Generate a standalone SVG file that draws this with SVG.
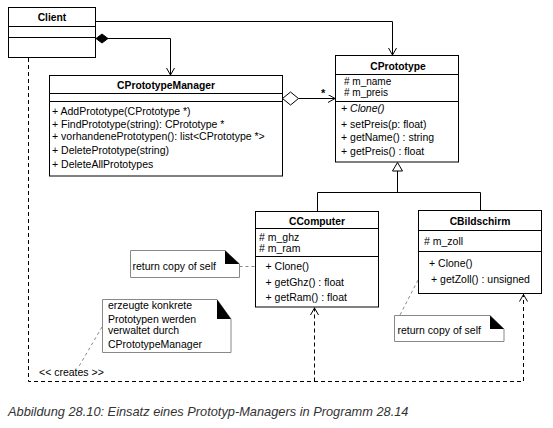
<svg xmlns="http://www.w3.org/2000/svg" width="553" height="428" viewBox="0 0 553 428">
<style>
text{font-family:"Liberation Sans",Arial,sans-serif;font-size:10.5px;fill:#000}
.t{font-weight:bold;font-size:10.3px;text-anchor:middle}
.box{fill:#fff;stroke:#000;stroke-width:1}
.ln{fill:none;stroke:#000;stroke-width:1}
.dash{fill:none;stroke:#000;stroke-width:1;stroke-dasharray:4 3}
.gd{fill:none;stroke:#888;stroke-width:1;stroke-dasharray:3 3}
.note{fill:#fff;stroke:#888;stroke-width:1}
.fold{fill:#000}
.cap{font-style:italic;font-size:12.8px;fill:#333}
</style>
<defs>
<marker id="open" markerWidth="10" markerHeight="10" refX="8" refY="4" orient="auto" markerUnits="userSpaceOnUse">
<path d="M1,0 L8,4 L1,8" fill="none" stroke="#000" stroke-width="1"/>
</marker>
</defs>
<rect width="553" height="428" fill="#fff"/>
<g id="connectors">
<path class="ln" d="M95.5,21.5 H392.5 V55" marker-end="url(#open)"/>
<path class="ln" d="M108,38.5 H170.5 V75" marker-end="url(#open)"/>
<polygon points="96,38.5 102,34 108,38.5 102,43" fill="#000" stroke="#000"/>
<path class="ln" d="M298.5,98.5 H335" marker-end="url(#open)"/>
<polygon points="282.5,98.5 290.5,92 298.5,98.5 290.5,105" fill="#fff" stroke="#000"/>
<text x="321" y="97" style="font-weight:bold;font-size:11px">*</text>
<path class="ln" d="M397.5,171 V192.5 M317.5,211 V192.5 H480.5 V210.5"/>
<polygon points="397.5,162.5 392.5,171 402.5,171" fill="#fff" stroke="#000"/>
<path class="dash" d="M28.5,58 V381.5 H523.5 V294"/>
<path class="dash" d="M314.5,381.5 V307.5"/>
<path d="M310.5,315 L314.5,308 L318.5,315" fill="none" stroke="#000"/>
<path d="M519.5,301.5 L523.5,294.5 L527.5,301.5" fill="none" stroke="#000"/>
<path class="gd" d="M239.5,266.5 H259"/>
<circle cx="261.5" cy="266.5" r="2.5" fill="#fff" stroke="#666"/>
<path class="gd" d="M423.5,269.5 L400,315"/>
<circle cx="424.5" cy="267" r="2.5" fill="#fff" stroke="#666"/>
<path class="gd" d="M102,327 L78,368"/>
<text x="39" y="376">&lt;&lt; creates &gt;&gt;</text>
</g>
<g id="client">
<rect class="box" x="8.5" y="7.5" width="87" height="50"/>
<path class="ln" d="M8.5,26.5 H95.5 M8.5,37.5 H95.5"/>
<text class="t" x="52" y="21">Client</text>
</g>
<g id="cprototypemanager">
<rect class="box" x="49.5" y="75.5" width="233" height="100.5"/>
<path class="ln" d="M49.5,93.5 H282.5 M49.5,101.5 H282.5"/>
<text class="t" x="166" y="89">CPrototypeManager</text>
<text x="52" y="115">+ AddPrototype(CPrototype *)</text>
<text x="52" y="127.5">+ FindPrototype(string): CPrototype *</text>
<text x="52" y="140">+ vorhandenePrototypen(): list&lt;CPrototype *&gt;</text>
<text x="52" y="154">+ DeletePrototype(string)</text>
<text x="52" y="168">+ DeleteAllPrototypes</text>
</g>
<g id="cprototype">
<rect class="box" x="335.5" y="55.5" width="123" height="106.5"/>
<path class="ln" d="M335.5,74.5 H458.5 M335.5,101.5 H458.5"/>
<text class="t" x="398" y="69.5">CPrototype</text>
<text x="344" y="85" style="font-size:10px">#  m_name</text>
<text x="344" y="96" style="font-size:10px">#  m_preis</text>
<text x="341" y="112" style="font-style:italic">+ Clone()</text>
<text x="341" y="128">+ setPreis(p: float)</text>
<text x="341" y="141">+ getName() : string</text>
<text x="341" y="155">+ getPreis() : float</text>
</g>
<g id="ccomputer">
<rect class="box" x="255.5" y="211.5" width="123" height="95.5"/>
<path class="ln" d="M255.5,228.5 H378.5 M255.5,256.5 H378.5"/>
<text class="t" x="317" y="224.5">CComputer</text>
<text x="259" y="241">#  m_ghz</text>
<text x="259" y="252">#  m_ram</text>
<text x="265.5" y="270">+ Clone()</text>
<text x="265.5" y="285.5">+ getGhz() : float</text>
<text x="265.5" y="301">+ getRam() : float</text>
</g>
<g id="cbildschirm">
<rect class="box" x="418.5" y="210.5" width="123" height="83"/>
<path class="ln" d="M418.5,230.5 H541.5 M418.5,251.5 H541.5"/>
<text class="t" x="480" y="224.5">CBildschirm</text>
<text x="424" y="244.5">#  m_zoll</text>
<text x="429" y="267">+ Clone()</text>
<text x="431" y="283">+ getZoll() : unsigned</text>
</g>
<g id="note-computer">
<path class="note" d="M130.5,250.5 H225 L239.5,264 V277.5 H130.5 Z"/>
<polygon class="fold" points="225,250.5 225,264 239.5,264"/>
<text x="132.5" y="270">return copy of self</text>
</g>
<g id="note-manager">
<path class="note" d="M102.5,299.5 H217 L231,319 V352.5 H102.5 Z"/>
<polygon class="fold" points="217,299.5 217,319 231,319"/>
<text x="108" y="309">erzeugte konkrete</text>
<text x="108" y="323">Prototypen werden</text>
<text x="108" y="334">verwaltet durch</text>
<text x="108" y="347.5">CPrototypeManager</text>
</g>
<g id="note-bildschirm">
<path class="note" d="M394.5,315.5 H490 L504,329 V341.5 H394.5 Z"/>
<polygon class="fold" points="490,315.5 490,329 504,329"/>
<text x="397.5" y="334">return copy of self</text>
</g>
<text class="cap" x="8" y="415.5">Abbildung 28.10: Einsatz eines Prototyp-Managers in Programm 28.14</text>
</svg>
